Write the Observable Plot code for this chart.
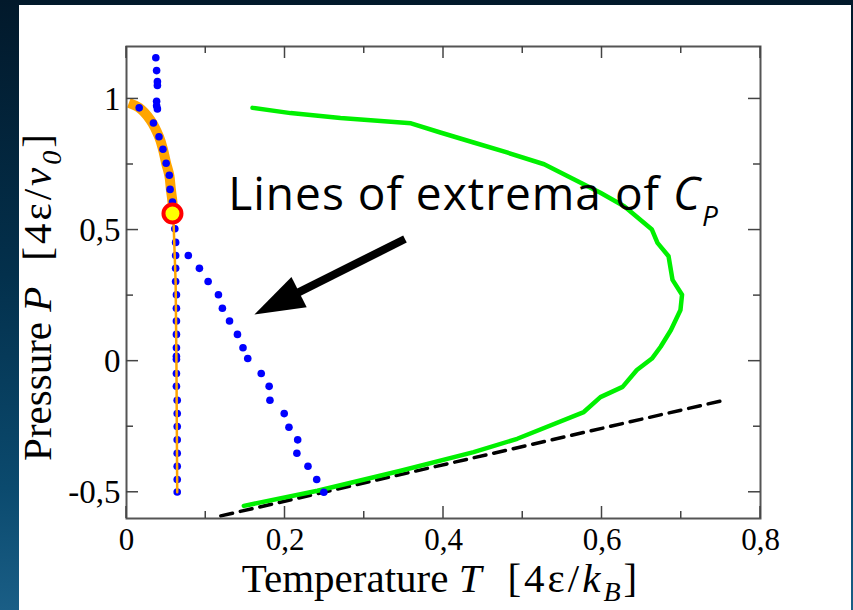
<!DOCTYPE html>
<html><head><meta charset="utf-8">
<script src="https://cdn.jsdelivr.net/npm/d3@7"></script>
<script src="https://cdn.jsdelivr.net/npm/@observablehq/plot@0.6"></script>
<style>
html,body{margin:0;padding:0;width:853px;height:610px;overflow:hidden;}
body{background:linear-gradient(180deg,#02192b 0%,#03304c 45%,#0b4a6e 80%,#1a5e86 100%);position:relative;}
#panel{position:absolute;left:19px;top:5px;width:832px;height:605px;background:#fff;}
#chart{position:absolute;left:0;top:0;}
</style></head><body><div id="panel"></div><div id="chart"></div>
<script>
// axis ticks
const xTicks = [0, 0.2, 0.4, 0.6, 0.8];
const xTickLabels = ["0", "0,2", "0,4", "0,6", "0,8"];
const xMinor = [0.1, 0.3, 0.5, 0.7];
const yTicks = [-0.5, 0, 0.5, 1];
const yTickLabels = ["-0,5", "0", "0,5", "1"];
const yMinor = [-0.25, 0.25, 0.75];

// blue dots: upper branch (near-vertical, above the critical point)
const cpUpperT = [0.037, 0.038, 0.039, 0.039, 0.038, 0.038, 0.039];
const cpUpperP = [1.157, 1.108, 1.066, 1.051, 0.991, 0.974, 0.962];
// blue dots along the curved orange line
const cpCurveT = [0.016, 0.034, 0.041, 0.046, 0.050, 0.054, 0.055, 0.058];
const cpCurveP = [0.966, 0.908, 0.856, 0.808, 0.755, 0.709, 0.655, 0.607];
// blue dots: vertical branch below the critical point
const cpVertT = [0.061, 0.062, 0.062, 0.062, 0.062, 0.063, 0.063, 0.063, 0.063, 0.063, 0.063, 0.063, 0.063, 0.063, 0.064, 0.064, 0.064, 0.064, 0.064, 0.064, 0.064, 0.064];
const cpVertP = [0.505, 0.453, 0.403, 0.354, 0.304, 0.253, 0.202, 0.153, 0.102, 0.051, 0.019, 0.007, -0.047, -0.096, -0.149, -0.200, -0.249, -0.300, -0.351, -0.401, -0.451, -0.499];
// blue dots: diagonal branch
const cpDiagT = [0.078, 0.092, 0.103, 0.116, 0.121, 0.130, 0.140, 0.147, 0.153, 0.170, 0.180, 0.181, 0.199, 0.205, 0.216, 0.215, 0.229, 0.240, 0.249];
const cpDiagP = [0.403, 0.354, 0.304, 0.253, 0.202, 0.153, 0.102, 0.051, 0.010, -0.047, -0.096, -0.149, -0.200, -0.252, -0.300, -0.351, -0.401, -0.451, -0.500];

// orange line (thick part above the critical point, thin below)
const orangeT = [0.003, 0.016, 0.030, 0.041, 0.046, 0.050, 0.054, 0.056, 0.058, 0.059];
const orangeP = [0.985, 0.966, 0.920, 0.856, 0.808, 0.755, 0.709, 0.655, 0.607, 0.563];
const orangeLowT = [0.059, 0.062, 0.063, 0.064];
const orangeLowP = [0.563, 0.300, 0.000, -0.500];

// critical point
const critT = [0.058];
const critP = [0.563];

// green line
const greenT = [0.148, 0.241, 0.346, 0.438, 0.493, 0.577, 0.598, 0.626, 0.644, 0.663, 0.674, 0.687, 0.699, 0.701, 0.689, 0.684, 0.670, 0.663, 0.628, 0.598, 0.565, 0.527, 0.480, 0.438, 0.396, 0.359, 0.270, 0.207, 0.159];
const greenP = [-0.552, -0.494, -0.418, -0.347, -0.296, -0.194, -0.137, -0.098, -0.034, 0.010, 0.055, 0.119, 0.195, 0.253, 0.310, 0.400, 0.451, 0.502, 0.591, 0.642, 0.693, 0.751, 0.796, 0.834, 0.872, 0.907, 0.927, 0.946, 0.966];

// dashed black line
const dashT = [0.119, 0.754];
const dashP = [-0.590, -0.149];

// annotation
const noteMain = "Lines of extrema of ";
const noteSym = "C";
const noteSub = "P";
const noteT = 0.129, noteP = 0.575;
const arrowFromT = 0.352, arrowFromP = 0.464;
const arrowToT = 0.162, arrowToP = 0.176;

const zip = (T, P) => T.map((t, i) => ({T: t, P: P[i]}));
const tickColor = "#444";

function frameTicks(index, scales, values, dims) {
  const g = d3.create("svg:g").attr("stroke", tickColor).attr("stroke-width", 1.5);
  const top = dims.marginTop, bottom = dims.height - dims.marginBottom;
  const left = dims.marginLeft, right = dims.width - dims.marginRight;
  for (const [vals, len] of [[xTicks, 12], [xMinor, 7]]) {
    for (const v of vals) {
      const x = scales.x(v);
      g.append("line").attr("x1", x).attr("x2", x).attr("y1", bottom).attr("y2", bottom - len);
      g.append("line").attr("x1", x).attr("x2", x).attr("y1", top).attr("y2", top + len);
    }
  }
  for (const [vals, len] of [[yTicks, 12], [yMinor, 7]]) {
    for (const v of vals) {
      const y = scales.y(v);
      g.append("line").attr("y1", y).attr("y2", y).attr("x1", left).attr("x2", left + len);
      g.append("line").attr("y1", y).attr("y2", y).attr("x1", right).attr("x2", right - len);
    }
  }
  return g.node();
}

function annotationMark(index, scales, values, dims) {
  const g = d3.create("svg:g");
  const x0 = scales.x(arrowFromT), y0 = scales.y(arrowFromP);
  const x1 = scales.x(arrowToT), y1 = scales.y(arrowToP);
  const dx = x1 - x0, dy = y1 - y0, len = Math.hypot(dx, dy);
  const ux = dx / len, uy = dy / len;
  const headLen = 50, headW = 34;
  const bx = x1 - ux * headLen, by = y1 - uy * headLen;
  g.append("line").attr("x1", x0).attr("y1", y0).attr("x2", bx + ux * 4).attr("y2", by + uy * 4)
    .attr("stroke", "black").attr("stroke-width", 8);
  g.append("path")
    .attr("d", `M${x1},${y1}L${bx - uy * headW / 2},${by + ux * headW / 2}L${bx + uy * headW / 2},${by - ux * headW / 2}Z`)
    .attr("fill", "black");
  const t = g.append("text").attr("x", scales.x(noteT)).attr("y", scales.y(noteP))
    .attr("text-anchor", "start").attr("letter-spacing", 1)
    .attr("font-family", "Open Sans").attr("font-size", 46).attr("fill", "black");
  t.append("tspan").text(noteMain);
  t.append("tspan").attr("font-style", "italic").text(noteSym);
  t.append("tspan").attr("font-style", "italic").attr("font-size", 28).attr("dx", 1).attr("dy", 16).text(noteSub);
  return g.node();
}

function axisLabels(index, scales, values, dims) {
  const g = d3.create("svg:g").attr("font-family", "Liberation Serif").attr("font-size", 41).attr("fill", "black");
  const tx = g.append("text").attr("x", 441).attr("y", 592).attr("text-anchor", "middle");
  tx.append("tspan").text("Temperature ");
  tx.append("tspan").attr("font-style", "italic").text("T");
  const bx = tx.append("tspan").attr("dx", 26).attr("letter-spacing", 3);
  bx.append("tspan").text("[4ε/");
  bx.append("tspan").attr("font-style", "italic").text("k");
  bx.append("tspan").attr("font-style", "italic").attr("font-size", 28).attr("dy", 9).text("B");
  bx.append("tspan").attr("dy", -9).text("]");
  const ty = g.append("text").attr("transform", `translate(51,296) rotate(-90)`).attr("text-anchor", "middle");
  ty.append("tspan").text("Pressure ");
  ty.append("tspan").attr("font-style", "italic").text("P");
  const by = ty.append("tspan").attr("dx", 26).attr("letter-spacing", 3);
  by.append("tspan").text("[4ε/");
  by.append("tspan").attr("font-style", "italic").text("v");
  by.append("tspan").attr("font-style", "italic").attr("font-size", 28).attr("dy", 10).text("0");
  by.append("tspan").attr("dy", -10).text("]");
  return g.node();
}

const chart = Plot.plot({
  width: 853, height: 610,
  marginLeft: 126, marginRight: 93, marginTop: 46, marginBottom: 92,
  x: {domain: [0, 0.8]},
  y: {domain: [-0.6, 1.2]},
  style: {background: "transparent", color: "black", fontFamily: "Liberation Serif", overflow: "visible"},
  marks: [
    // tick labels
    Plot.axisX(xTicks, {anchor: "bottom", tickSize: 0, tickPadding: 9, fontSize: 31, label: null,
      tickFormat: d => xTickLabels[xTicks.indexOf(d)]}),
    Plot.axisY(yTicks, {anchor: "left", tickSize: 0, tickPadding: 6, fontSize: 33, label: null,
      tickFormat: d => yTickLabels[yTicks.indexOf(d)]}),
    // data
    Plot.line(zip(dashT, dashP), {x: "T", y: "P", stroke: "black", strokeWidth: 3.5, strokeDasharray: "12,8"}),
    Plot.line(zip(greenT, greenP), {x: "T", y: "P", stroke: "#00f000", strokeWidth: 4.5, strokeLinejoin: "round"}),
    Plot.line(zip(orangeT, orangeP), {x: "T", y: "P", stroke: "#ffa500", strokeWidth: 10, strokeLinecap: "butt", curve: "catmull-rom"}),
    Plot.dot(zip(cpUpperT, cpUpperP), {x: "T", y: "P", r: 3.8, fill: "#0000ff"}),
    Plot.dot(zip(cpCurveT, cpCurveP), {x: "T", y: "P", r: 3.8, fill: "#0000ff"}),
    Plot.dot(zip(cpVertT, cpVertP), {x: "T", y: "P", r: 3.8, fill: "#0000ff"}),
    Plot.dot(zip(cpDiagT, cpDiagP), {x: "T", y: "P", r: 3.8, fill: "#0000ff"}),
    Plot.line(zip(orangeLowT, orangeLowP), {x: "T", y: "P", stroke: "#ffa500", strokeWidth: 2.5}),
    Plot.dot(zip(critT, critP), {x: "T", y: "P", r: 9, fill: "#ffff00", stroke: "#ff0000", strokeWidth: 4}),
    Plot.frame({stroke: "#555", strokeWidth: 2}),
    frameTicks,
    annotationMark,
    axisLabels
  ]
});
document.getElementById("chart").appendChild(chart);
</script></body></html>
